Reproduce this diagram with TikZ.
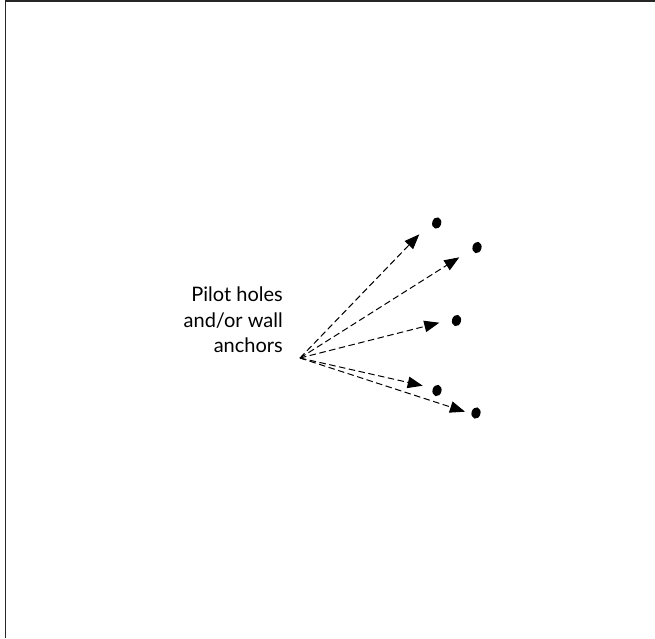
\documentclass[tikz,border=0pt]{standalone}
\usepackage{fontspec}
\setmainfont{Lato}
\usetikzlibrary{arrows.meta,shapes.geometric}
\begin{document}
\begin{tikzpicture}[x=1pt,y=-1pt,
  ptr/.style={draw=black,line width=1pt,dash pattern=on 6.5pt off 3.5pt,-{Triangle[length=15pt,width=11.5pt]}},
  hole/.style={fill=black,draw=none,ellipse,minimum width=9pt,minimum height=11.5pt,inner sep=0pt,rotate=-15},
  lbl/.style={align=right,font=\fontsize{20}{25.5}\selectfont,inner sep=0pt,anchor=north east}]
\useasboundingbox (0,0) rectangle (655,638);
\draw[line width=1.4pt,draw=black!85] (5.5,638) -- (5.5,1) -- (655,1);
\node[lbl] (t) at (283,287) {Pilot holes\\and/or wall\\anchors};
\coordinate (s) at (300,358);
\node[hole] (h1) at (436.7,223) {};
\node[hole] (h2) at (477,247.5) {};
\node[hole] (h3) at (456.5,320.5) {};
\node[hole] (h4) at (437,390.5) {};
\node[hole] (h5) at (476,413) {};
\coordinate (e1) at (419.3,234.3);
\coordinate (e2) at (459.3,257.3);
\coordinate (e3) at (439.3,322.7);
\coordinate (e4) at (422.7,385.7);
\coordinate (e5) at (465,411.7);
\foreach \i in {1,...,5} \draw[ptr] (s) -- (e\i);
\end{tikzpicture}
\end{document}
